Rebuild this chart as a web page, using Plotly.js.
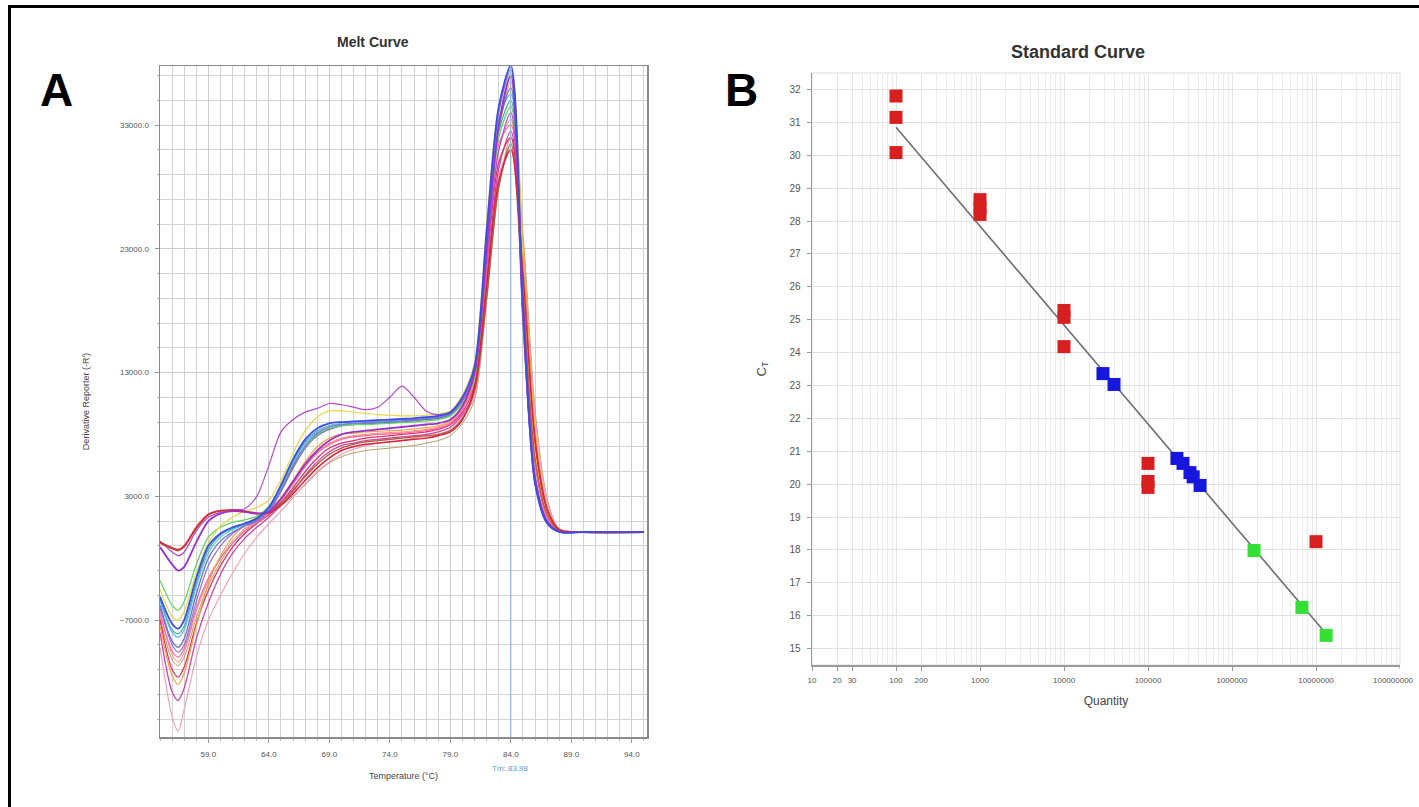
<!DOCTYPE html>
<html><head><meta charset="utf-8">
<script src="https://cdn.plot.ly/plotly-3.0.1.min.js"></script>
<style>html,body{margin:0;padding:0;background:#fff}#chart{width:1419px;height:807px}</style>
</head><body><div id="chart"></div>
<script>
// ---------- Panel A: melt curve data (temperature in °C, derivative reporter) ----------
const temps = [55,56,56.5,57,58,59,60,61,62,63,64,65,66,67,68,69,70,71,72,73,74,75,76,77,78,79,80,81,82,83,84,85,86,87,88,90,95];

const curveBrown   = [-800,-1250,-1400,-1100,400,1500,1800,1850,1750,1600,1700,2500,3500,4600,5600,6400,6900,7200,7400,7500,7600,7700,7800,7900,8000,8300,9300,11500,19000,28000,31500,19000,6000,1500,250,100,100];
const curveCrimson = [-700,-1150,-1300,-1000,500,1550,1850,1900,1800,1650,1650,2300,3200,4300,5300,6100,6700,7000,7200,7300,7400,7500,7600,7700,7900,8200,9200,11800,20000,28500,31000,21000,7500,2000,300,100,100];
const curvePurple  = [-1100,-2500,-3000,-2700,-700,1000,1600,1800,1750,1600,1750,2800,4200,5600,6700,7500,8000,8200,8300,8400,8500,8600,8700,8800,8900,9200,10300,13000,23000,33000,37000,18000,4500,1000,150,100,100];
const curveOutlier = [-600,-1500,-1800,-1500,200,1300,1700,1900,2000,3000,5500,8200,9200,9800,10100,10500,10400,10200,10000,10200,11000,11900,11000,9900,9600,9800,10800,13000,22000,31000,34000,17000,4000,900,150,100,100];
const curveGreen   = [-3800,-5800,-6200,-5500,-2500,-300,500,900,1100,1400,2200,3800,5600,7000,8000,8500,8700,8800,8800,8850,8900,8950,9000,9100,9200,9500,10500,12500,22500,32000,34500,17500,4500,1000,150,100,100];
const curveBlue    = [-5100,-7300,-7700,-7000,-3600,-1000,0,500,800,1200,2100,3900,6000,7600,8500,8900,9000,9050,9100,9150,9200,9250,9300,9400,9500,9800,11000,13500,24500,34500,37800,18500,4000,800,120,100,100];
const curveCyan    = [-5500,-8000,-8400,-7800,-4300,-1600,-300,300,700,1100,1900,3600,5700,7300,8200,8700,8900,9000,9000,9050,9100,9200,9300,9400,9500,9800,10900,13200,24000,33500,35500,17000,4000,800,120,100,100];
const curveSlate   = [-5800,-8700,-9200,-8500,-4900,-2000,-600,100,600,1000,1800,3400,5300,6900,7900,8400,8700,8800,8850,8900,8950,9000,9100,9200,9300,9600,10700,13000,23500,33000,36000,17500,4200,900,130,100,100];
const curveTeal    = [-5300,-7800,-8100,-7500,-4000,-1300,-100,400,800,1200,2000,3700,5800,7400,8300,8700,8800,8850,8900,8950,9000,9100,9150,9250,9350,9650,10700,13000,23000,32500,35000,18000,4500,900,130,100,100];
const curvePink    = [-6500,-9500,-10000,-9300,-6000,-3600,-2000,-800,200,900,1600,2700,4000,5400,6500,7200,7600,7800,7900,8000,8050,8100,8200,8300,8500,8900,10000,12500,23000,31500,33000,19000,5500,1300,200,100,100];
const curveRose    = [-7000,-11000,-11600,-10800,-7300,-4600,-2600,-1100,0,800,1500,2500,3700,5000,6100,6900,7300,7500,7700,7800,7900,8000,8100,8200,8400,8800,9800,12000,21500,30000,32000,21000,7000,1800,250,100,100];
const curveMagenta = [-8000,-12800,-13500,-12500,-8500,-5600,-3300,-1600,-400,500,1300,2300,3400,4700,5800,6600,7100,7300,7500,7600,7700,7800,7900,8000,8200,8600,9600,11500,20500,29500,32500,22000,8000,2000,300,100,100];
const curveLtPink  = [-9200,-14800,-16000,-14200,-10000,-7000,-5000,-3200,-1600,-300,800,1800,2900,4000,5000,5800,6400,6800,7100,7300,7400,7500,7700,7800,8000,8400,9400,11000,19500,29000,31000,23000,9500,2500,350,100,100];
const curveOrange  = [-7500,-11500,-12200,-11300,-7500,-4000,-1800,-300,700,1300,1900,2900,4300,5800,7000,7700,8000,8100,8200,8250,8300,8350,8450,8550,8700,9100,10200,12500,22000,32500,36500,24000,8500,2000,300,100,100];
const curveYellow  = [-4500,-6700,-7000,-6300,-3200,-800,600,1300,1800,2100,2700,4300,6500,8300,9400,9900,9900,9800,9700,9600,9550,9500,9500,9550,9650,9900,11200,13800,25000,34500,37200,22000,6500,1500,200,100,100];
const curveOlive   = [-6800,-10200,-10700,-10000,-6800,-4200,-2300,-800,300,1000,1500,2200,3000,3900,4900,5700,6200,6500,6700,6800,6900,7000,7100,7300,7500,7900,8900,10800,19000,28000,32000,24000,10000,2800,400,100,100];
const curveSalmon  = [-6200,-9800,-10400,-9600,-6300,-3800,-2000,-600,400,1100,1700,2800,4100,5500,6600,7300,7700,7900,8000,8100,8150,8200,8300,8400,8600,9000,10100,12200,22500,31000,33500,20000,6000,1500,200,100,100];
const curveViolet  = [-6000,-9000,-9600,-9000,-5500,-2600,-1000,0,600,1100,1900,3500,5500,7100,8100,8600,8800,8900,8950,9000,9050,9100,9200,9300,9400,9700,10800,13200,24000,34000,37500,19000,4500,900,130,100,100];

const meltSeries = [curveOlive,curveLtPink,curveSalmon,curveMagenta,curveRose,curvePink,curveOrange,curveTeal,curveCyan,curveSlate,curveGreen,curveYellow,curveViolet,curveOutlier,curveBrown,curveCrimson,curvePurple,curveBlue];
const meltColors = ['#b59a62','#f0a2bc','#f08a78','#d044a6','#e0306a','#ff6aa2','#f2a444','#3aa6a0','#5cbce8','#6a70b8','#62d462','#e6d64a','#8a70e0','#b44ccc','#b0603a','#d8243c','#9932cc','#3a4fe0'];
const meltWidths = [1,1.2,1,1.3,1.3,1.3,1.2,1.2,1.2,1.3,1.3,1.2,1.2,1.2,1.4,1.5,1.8,1.8];

const tempTicks = [59,64,69,74,79,84,89,94];
const reporterTicks = [-7000,3000,13000,23000,33000];
const tmValue = 83.98;

// ---------- Panel B: standard curve data ----------
const redQty   = [100,100,100,1000,1000,1000,10000,10000,10000,100000,100000,100000,10000000];
const redCt    = [31.8,31.15,30.08,28.65,28.4,28.2,25.28,25.07,24.18,20.63,20.08,19.9,18.25];
const blueQty  = [29100,39400,221000,261000,316000,345000,417000];
const blueCt   = [23.36,23.03,20.78,20.63,20.35,20.22,19.96];
const greenQty = [1830000,6800000,13200000];
const greenCt  = [17.98,16.25,15.4];
const fitQty   = [100,13200000];
const fitCt    = [30.85,15.45];
const qtyTickVals = [10,20,30,100,200,1000,10000,100000,1000000,10000000,100000000];
const qtyTickText = ['10','20','30','100','200','1000','10000','100000','1000000','10000000','100000000'];
const ctTicks = [15,16,17,18,19,20,21,22,23,24,25,26,27,28,29,30,31,32];

// ---------- figure ----------
const W = 1419, H = 807;
const px = x => x / W;
const py = y => 1 - y / H;
const FONT = 'Arial, "Liberation Sans", sans-serif';

const minorQty = [];
for (let d = 1; d < 8; d++) for (let k = 2; k <= 9; k++) minorQty.push(k * Math.pow(10, d));

// the last quantity label sits at the right edge; it is drawn as an annotation nudged inside the figure
const nAxisTicks = qtyTickVals.length - 1;
const edgeQty = qtyTickVals[nAxisTicks];
const edgeText = qtyTickText[nAxisTicks];

const traces = [];
meltSeries.forEach((vals, i) => {
  traces.push({
    type: 'scatter', mode: 'lines', x: temps, y: vals, xaxis: 'x', yaxis: 'y',
    line: {color: meltColors[i], width: meltWidths[i], shape: 'spline', smoothing: 0.8},
    hoverinfo: 'skip'
  });
});
traces.push({type:'scatter', mode:'lines', x: fitQty, y: fitCt, xaxis:'x2', yaxis:'y2',
  line:{color:'#6e6e6e', width:1.6}, hoverinfo:'skip'});
traces.push({type:'scatter', mode:'markers', x: redQty, y: redCt, xaxis:'x2', yaxis:'y2',
  marker:{symbol:'square', size:13, color:'#d81f1f', line:{width:0}}});
traces.push({type:'scatter', mode:'markers', x: blueQty, y: blueCt, xaxis:'x2', yaxis:'y2',
  marker:{symbol:'square', size:13, color:'#1616dc', line:{width:0}}});
traces.push({type:'scatter', mode:'markers', x: greenQty, y: greenCt, xaxis:'x2', yaxis:'y2',
  marker:{symbol:'square', size:13, color:'#33e033', line:{width:0}}});

const layout = {
  width: W, height: H, margin: {l:0, r:0, t:0, b:0},
  paper_bgcolor: '#ffffff', plot_bgcolor: '#ffffff', showlegend: false,
  font: {family: FONT, color: '#444'},
  xaxis: {
    domain: [px(160), px(647)], range: [55, 95.25], anchor: 'y',
    tickmode: 'array', tickvals: tempTicks, tickformat: '.1f',
    ticks: 'outside', ticklen: 4, tickcolor: '#999', ticklabelstandoff: 5,
    tickfont: {size: 8, color: '#555', family: FONT},
    showline: true, linecolor: '#8a8a8a', linewidth: 1.5, mirror: true,
    showgrid: true, gridcolor: '#cdcdcd', gridwidth: 1, zeroline: false,
    minor: {tickmode: 'linear', tick0: 55, dtick: 1, showgrid: true, gridcolor: '#d3d3d3', gridwidth: 1, ticks: 'outside', ticklen: 2, tickcolor: '#bbb'},
    title: {text: 'Temperature (°C)', font: {size: 9, color: '#444', family: FONT}, standoff: 14}
  },
  yaxis: {
    domain: [py(737), py(66)], range: [-16450, 37770], anchor: 'x',
    tickmode: 'array', tickvals: reporterTicks, tickformat: '.1f',
    ticks: 'outside', ticklen: 4, tickcolor: '#999', ticklabelstandoff: 4,
    tickfont: {size: 8, color: '#555', family: FONT},
    showline: true, linecolor: '#8a8a8a', linewidth: 1.5, mirror: true,
    showgrid: true, gridcolor: '#cdcdcd', gridwidth: 1, zeroline: false,
    minor: {tickmode: 'linear', tick0: 3000, dtick: 2000, showgrid: true, gridcolor: '#d3d3d3', gridwidth: 1, ticks: 'outside', ticklen: 2, tickcolor: '#bbb'},
    title: {text: "Derivative Reporter (-R')", font: {size: 9, color: '#444', family: FONT}, standoff: 28}
  },
  xaxis2: {
    type: 'log', domain: [px(812), px(1400)], range: [1, 8], anchor: 'y2',
    tickmode: 'array', tickvals: qtyTickVals.slice(0, nAxisTicks), ticktext: qtyTickText.slice(0, nAxisTicks),
    ticks: 'outside', ticklen: 4, tickcolor: '#999', ticklabelstandoff: 3,
    tickfont: {size: 8, color: '#555', family: FONT},
    showline: true, linecolor: '#9a9a9a', linewidth: 1.5, mirror: false,
    showgrid: true, gridcolor: '#e4e4e4', gridwidth: 1, zeroline: false,
    minor: {tickmode: 'array', tickvals: minorQty, showgrid: true, gridcolor: '#ececec', gridwidth: 1, ticks: ''},
    title: {text: 'Quantity', font: {size: 12, color: '#444', family: FONT}, standoff: 12}
  },
  yaxis2: {
    domain: [py(665), py(73)], range: [14.5, 32.5], anchor: 'x2',
    tickmode: 'array', tickvals: ctTicks,
    ticks: 'outside', ticklen: 4, tickcolor: '#999', ticklabelstandoff: 4,
    tickfont: {size: 10, color: '#555', family: FONT},
    showline: true, linecolor: '#9a9a9a', linewidth: 1.5, mirror: false,
    showgrid: true, gridcolor: '#e2e2e2', gridwidth: 1, zeroline: false,
    title: {text: 'C<sub>T</sub>', font: {size: 13, color: '#444', family: FONT}, standoff: 20}
  },
  shapes: [
    {type:'line', xref:'x', yref:'y domain', x0: tmValue, x1: tmValue, y0: 0, y1: 1,
     line:{color:'#9dbcd6', width:1.5}, layer:'above'},
    {type:'rect', xref:'x2 domain', yref:'y2 domain', x0:0, x1:1, y0:0, y1:1,
     line:{color:'#dcdcdc', width:1}, layer:'below'},
    // tick mark for the edge label
    {type:'line', xref:'x2', yref:'paper', x0: edgeQty, x1: edgeQty, y0: py(665), y1: py(669),
     line:{color:'#999', width:1}},
    {type:'line', xref:'paper', yref:'paper', x0: px(8), x1: 1.05, y0: py(6.5), y1: py(6.5),
     line:{color:'#000', width:3}},
    {type:'line', xref:'paper', yref:'paper', x0: px(9.5), x1: px(9.5), y0: py(5), y1: -0.05,
     line:{color:'#000', width:3}}
  ],
  annotations: [
    {text:'<b>Melt Curve</b>', xref:'paper', yref:'paper', x: px(373), y: py(42), xanchor:'center', yanchor:'middle', showarrow:false,
     font:{size:14, color:'#333', family: FONT}},
    {text:'<b>Standard Curve</b>', xref:'paper', yref:'paper', x: px(1078), y: py(52), xanchor:'center', yanchor:'middle', showarrow:false,
     font:{size:18, color:'#333', family: FONT}},
    {text:'<b>A</b>', xref:'paper', yref:'paper', x: px(57), y: py(90), xanchor:'center', yanchor:'middle', showarrow:false,
     font:{size:46, color:'#000', family: FONT}},
    {text:'<b>B</b>', xref:'paper', yref:'paper', x: px(741), y: py(90), xanchor:'center', yanchor:'middle', showarrow:false,
     font:{size:46, color:'#000', family: FONT}},
    {text:'Tm: ' + tmValue.toFixed(2), xref:'x', yref:'paper', x: tmValue, y: py(768), xanchor:'center', yanchor:'middle', showarrow:false,
     font:{size:8, color:'#5a9cc6', family: FONT}},
    {text: edgeText, xref:'x2', yref:'paper', x: Math.log10(edgeQty), y: py(680), xanchor:'center', yanchor:'middle', xshift: -7,
     showarrow:false, font:{size:8, color:'#555', family: FONT}}
  ]
};

Plotly.newPlot('chart', traces, layout, {displayModeBar:false, staticPlot:true});
</script>
</body></html>
